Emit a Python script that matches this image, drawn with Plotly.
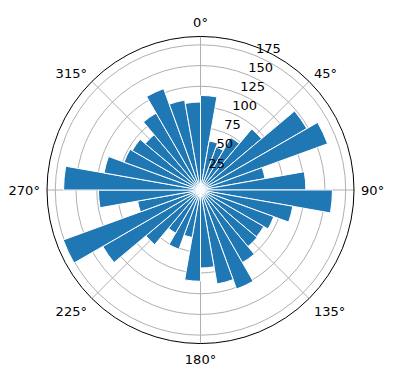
import plotly.graph_objects as go

# bin start angles (degrees, clockwise from north) and bar heights
bin_starts = list(range(0, 360, 10))
counts = [114, 60, 55, 73, 96, 148, 163, 79, 127,
          159, 113, 94, 88, 89, 101, 127, 115, 94,
          110, 58, 76, 60, 86, 136, 176, 77, 123,
          165, 118, 98, 95, 87, 107, 130, 110, 106]
bin_width = 10
r_ticks = [25, 50, 75, 100, 125, 150, 175]
r_label_theta = 22.5
theta_ticks = [0, 45, 90, 135, 180, 225, 270, 315]
theta_labels = [f"{t}°" for t in theta_ticks]

centers = [s + bin_width / 2 for s in bin_starts]

font = dict(family="DejaVu Sans", size=13, color="black")

fig = go.Figure()
fig.add_trace(go.Barpolar(
    r=counts,
    theta=centers,
    width=[bin_width] * len(counts),
    marker=dict(color="#1f77b4", line=dict(color="white", width=1)),
    hoverinfo="r+theta",
))
# radial tick labels, matplotlib style (left/bottom anchored at the tick)
fig.add_trace(go.Scatterpolar(
    r=r_ticks,
    theta=[r_label_theta] * len(r_ticks),
    mode="text",
    text=[str(v) for v in r_ticks],
    textposition="top right",
    textfont=font,
    hoverinfo="skip",
    cliponaxis=False,
))

fig.update_layout(
    width=396, height=380,
    margin=dict(l=46.5, r=41.5, t=36, b=36),
    paper_bgcolor="white",
    showlegend=False,
    font=font,
    polar=dict(
        bgcolor="white",
        domain=dict(x=[0, 1], y=[0, 1]),
        bargap=0,
        angularaxis=dict(
            rotation=90, direction="clockwise",
            tickvals=theta_ticks, ticktext=theta_labels,
            showline=True, linecolor="black", linewidth=1,
            gridcolor="#b0b0b0", gridwidth=0.8,
            ticks="outside", ticklen=4, tickcolor="rgba(0,0,0,0)",
            tickfont=font,
        ),
        radialaxis=dict(
            range=[0, 185],
            tickvals=r_ticks,
            showticklabels=False,
            showline=False, ticks="",
            gridcolor="#b0b0b0", gridwidth=0.8,
        ),
    ),
)
fig.write_html("out.html")
